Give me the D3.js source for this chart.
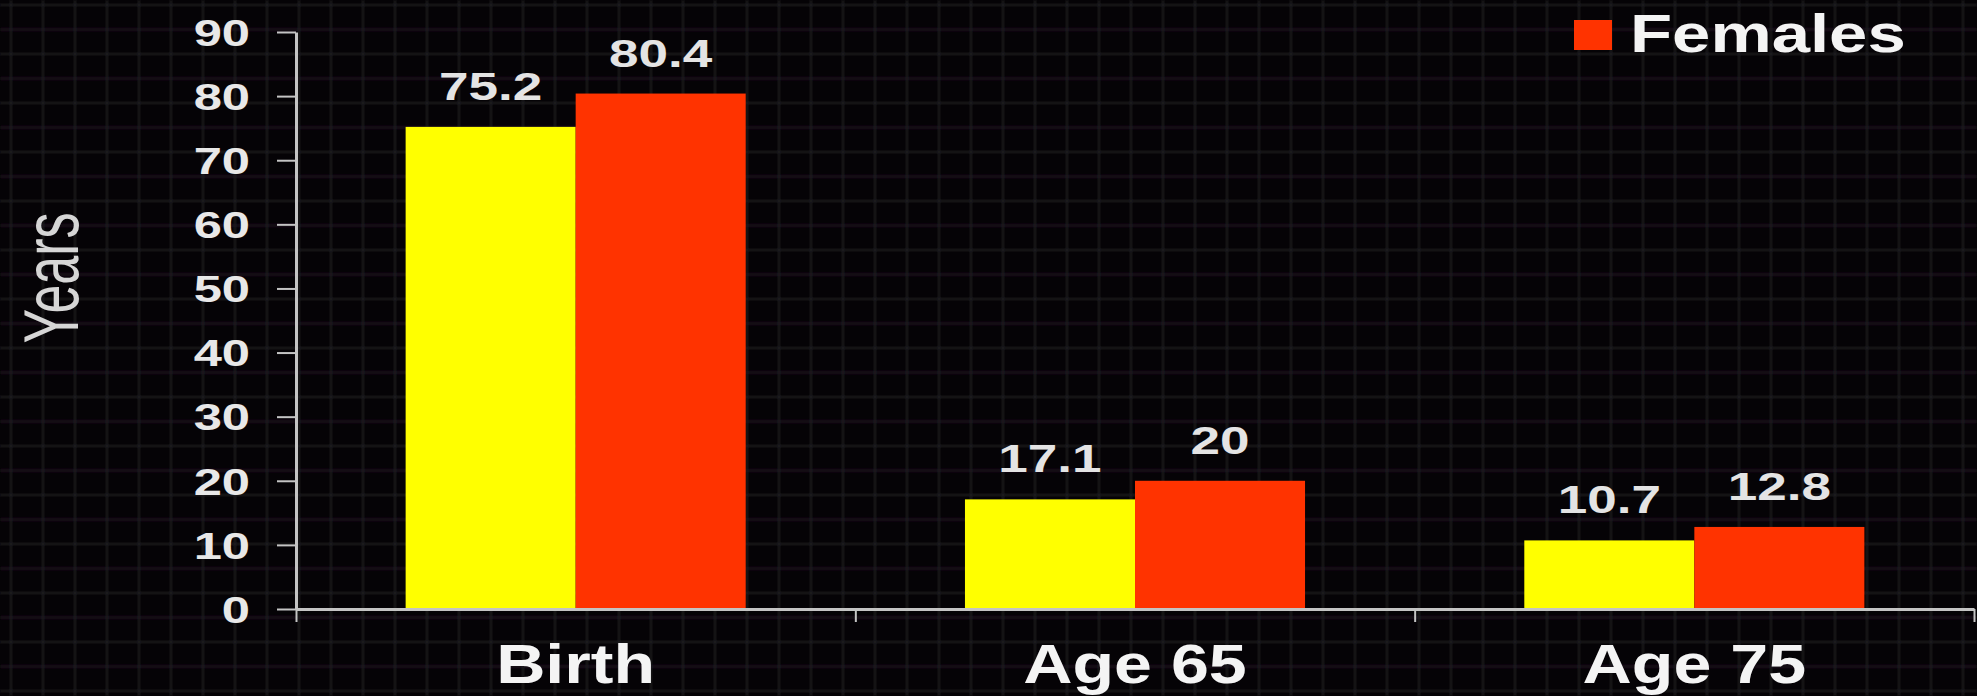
<!DOCTYPE html>
<html>
<head>
<meta charset="utf-8">
<script src="https://cdn.jsdelivr.net/npm/d3@7"></script>
<style>
  html, body { margin: 0; padding: 0; background: #050306; }
  svg { display: block; }
  text { font-family: "Liberation Sans", Arial, Helvetica, sans-serif; }
</style>
</head>
<body>
<svg id="chart" width="1977" height="696"></svg>
<script>
// Life expectancy (years) at birth, age 65 and age 75
const categories = ["Birth", "Age 65", "Age 75"];
const series = ["Males", "Females"];
const males = [75.2, 17.1, 10.7];
const females = [80.4, 20, 12.8];
const yTicks = [0, 10, 20, 30, 40, 50, 60, 70, 80, 90];
const yLabel = "Years";
const colors = ["#ffff00", "#ff3300"];

const W = 1977, H = 696;
const svg = d3.select("#chart");

// faint graph-paper backdrop
const bg = svg.append("g");
bg.append("rect").attr("width", W).attr("height", H).attr("fill", "#050306");
const defs = svg.append("defs");
defs.append("filter").attr("id", "soft")
  .append("feGaussianBlur").attr("stdDeviation", 1);
const grid = bg.append("g").attr("filter", "url(#soft)")
  .attr("stroke", "#1f1c22").attr("stroke-width", 2);
grid.selectAll("line.v").data(d3.range(11, W, 32)).join("line")
  .attr("class", "v")
  .attr("x1", d => d).attr("x2", d => d).attr("y1", 0).attr("y2", H);
grid.selectAll("line.h").data(d3.range(5, H, 24.5)).join("line")
  .attr("class", "h")
  .attr("x1", 0).attr("x2", W).attr("y1", d => d).attr("y2", d => d);

// plot frame
const plotLeft = 296, plotRight = 1974, plotTop = 32, plotBase = 609;
const y = d3.scaleLinear().domain([0, 90]).range([plotBase, plotTop]);
const x0 = d3.scaleBand().domain(categories).range([plotLeft, plotRight])
  .paddingInner(0.392).paddingOuter(0.196);
const x1 = d3.scaleBand().domain(series).range([0, x0.bandwidth()]);
const xEdge = d3.scaleLinear().domain([0, categories.length]).range([plotLeft, plotRight]);

const rows = categories.map((c, i) => ({ cat: c, values: [males[i], females[i]] }));

// bars
const groups = svg.append("g").selectAll("g").data(rows).join("g")
  .attr("transform", d => `translate(${x0(d.cat)},0)`);
groups.selectAll("rect").data(d => d.values.map((v, j) => ({ s: series[j], v, j })))
  .join("rect")
  .attr("x", d => x1(d.s))
  .attr("y", d => y(d.v))
  .attr("width", x1.bandwidth())
  .attr("height", d => y(0) - y(d.v))
  .attr("fill", d => colors[d.j]);

// value labels
groups.selectAll("text").data(d => d.values.map((v, j) => ({ s: series[j], v })))
  .join("text")
  .attr("transform", d => `translate(${x1(d.s) + x1.bandwidth() / 2},${y(d.v) - 27}) scale(1.36,1)`)
  .attr("text-anchor", "middle")
  .attr("font-size", 39).attr("font-weight", "bold")
  .attr("fill", "#e4e4e4")
  .text(d => String(d.v));

// y axis
const axisColor = "#c4c4c4";
const yAxis = svg.append("g").attr("transform", `translate(${plotLeft},0)`)
  .call(d3.axisLeft(y).tickValues(yTicks).tickSize(19).tickSizeOuter(0));
yAxis.select(".domain").attr("stroke", axisColor).attr("stroke-width", 3);
yAxis.selectAll(".tick line").attr("stroke", axisColor).attr("stroke-width", 2);
yAxis.selectAll(".tick text")
  .attr("x", null).attr("dy", "0.36em")
  .attr("transform", "translate(-46,0) scale(1.37,1)")
  .attr("text-anchor", "end")
  .attr("font-size", 37).attr("font-weight", "bold")
  .attr("fill", "#e8e8e8");

// x axis with ticks at category boundaries
const xAxis = svg.append("g").attr("transform", `translate(0,${plotBase})`)
  .call(d3.axisBottom(xEdge).tickValues(d3.range(0, categories.length + 1))
    .tickSize(13).tickSizeOuter(0).tickFormat(""));
xAxis.select(".domain").attr("stroke", axisColor).attr("stroke-width", 3);
xAxis.selectAll(".tick line").attr("stroke", axisColor).attr("stroke-width", 2);

// category labels
svg.append("g").selectAll("text").data(categories).join("text")
  .attr("transform", d => `translate(${x0(d) + x0.bandwidth() / 2},683) scale(1.24,1)`)
  .attr("text-anchor", "middle")
  .attr("font-size", 55).attr("font-weight", "bold")
  .attr("fill", "#f4f4f4")
  .text(d => d);

// y axis title
svg.append("text")
  .attr("transform", "translate(78,278) rotate(-90) scale(1,1.48)")
  .attr("text-anchor", "middle")
  .attr("font-size", 52)
  .attr("fill", "#d6d6d6")
  .text(yLabel);

// legend: the Females key at the top-right corner
const legendItems = series.slice(1);
const legend = svg.append("g").attr("transform", "translate(1574,52)");
const item = legend.selectAll("g").data(legendItems).join("g");
item.append("rect").attr("x", 0).attr("y", -32).attr("width", 38).attr("height", 30)
  .attr("fill", d => colors[series.indexOf(d)]);
item.append("text")
  .attr("transform", "translate(56,0) scale(1.3,1)")
  .attr("font-size", 53).attr("font-weight", "bold")
  .attr("fill", "#f4f4f4")
  .text(d => d);
</script>
</body>
</html>
